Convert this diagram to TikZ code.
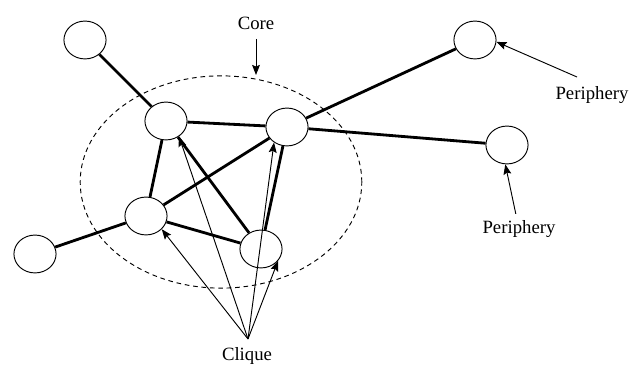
\documentclass[tikz,border=0pt]{standalone}
\usepackage{fontspec}
\setmainfont{Liberation Serif}
\usetikzlibrary{arrows.meta}
\usetikzlibrary{shapes.geometric}

\begin{document}
\begin{tikzpicture}[>={Stealth[length=5.4pt, width=4.2pt, inset=0.9pt]}, x=0.1875mm, y=-0.1875mm,
  vert/.style={draw, ellipse, line width=0.5pt, inner sep=0pt, minimum width=7.9mm, minimum height=7.1mm},
  link/.style={line width=1.5pt},
  pointer/.style={->, line width=0.5pt}]
  \useasboundingbox (0,0) rectangle (638,366);
  % core boundary
  \draw[dashed, dash pattern=on 2.5pt off 2pt, line width=0.5pt] (221,182) ellipse [x radius=2.64cm, y radius=1.99cm];
  % vertices
  \node[vert] (a) at (85,40) {};
  \node[vert] (b) at (166,121) {};
  \node[vert] (c) at (287,127) {};
  \node[vert] (d) at (146,216) {};
  \node[vert] (e) at (261,249) {};
  \node[vert] (f) at (35,254) {};
  \node[vert] (g) at (475,40) {};
  \node[vert] (h) at (507,145) {};
  % edges
  \draw[link] (a) -- (b);
  \draw[link] (b) -- (c);
  \draw[link] (b) -- (d);
  \draw[link] (b) -- (e);
  \draw[link] (d) -- (c);
  \draw[link] (c) -- (e);
  \draw[link] (d) -- (e);
  \draw[link] (f) -- (d);
  \draw[link] (c) -- (g);
  \draw[link] (c) -- (h);
  % labels
  \node (core) at (256,23) {Core};
  \node (per1) at (592,95) {Periphery};
  \node (per2) at (519,229) {Periphery};
  \node (clq) at (247,356) {Clique};
  \coordinate (cq) at (248,339);
  \draw[pointer] (core.south) ++(0,3) -- (256,75);
  \draw[pointer] (577,77) -- (g.-5);
  \draw[pointer] (per2) -- (h.-95);
  \draw[pointer] (cq) -- (d.-40);
  \draw[pointer] (cq) -- (b.-50);
  \draw[pointer] (cq) -- (c.-130);
  \draw[pointer] (cq) -- (e.-35);
\end{tikzpicture}
\end{document}
